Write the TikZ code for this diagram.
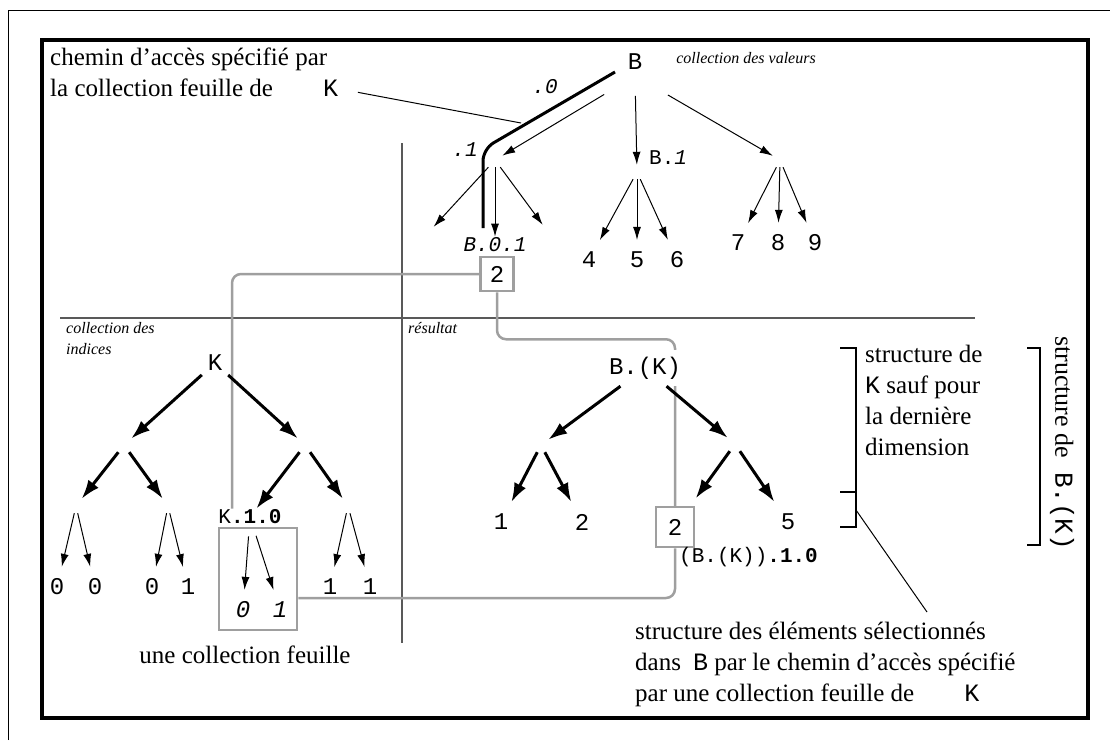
\documentclass[tikz,border=0pt]{standalone}
\usepackage{fontspec}
\setmainfont{Liberation Serif}
\setmonofont{Liberation Mono}
\usetikzlibrary{arrows.meta,positioning,calc}
\pgfdeclarelayer{bg}
\pgfsetlayers{bg,main}
\tikzset{
  thin arrow/.style={-{Latex[length=13pt,width=8pt]}, line width=1pt},
  thick arrow/.style={-{Latex[length=19pt,width=13pt]}, line width=3pt},
  branch/.style={inner sep=0pt, minimum size=14pt},
  root/.style={font=\fontsize{24}{24}\selectfont\ttfamily, inner sep=1pt, outer sep=5pt},
  leaf/.style={font=\fontsize{24}{24}\selectfont\ttfamily, inner sep=0pt, outer sep=12pt},
  smalltt/.style={font=\fontsize{21}{21}\selectfont\ttfamily, inner sep=1pt},
  note/.style={font=\fontsize{25}{31}\selectfont, align=left, inner sep=0pt},
  caption/.style={font=\fontsize{16}{21}\selectfont\itshape, align=left, inner sep=0pt},
  link/.style={draw=gray!75, line width=2.5pt, rounded corners=9pt},
  selbox/.style={draw=gray!75, line width=2.5pt, fill=white, inner sep=0pt,
    font=\fontsize{24}{24}\selectfont\ttfamily},
  divider/.style={draw=black!65, line width=1.2pt},
  bracket/.style={line width=2.5pt},
}

\begin{document}
\begin{tikzpicture}[x=1pt,y=-1pt]
\useasboundingbox (0,0) rectangle (1110,740);
\draw[line width=1pt] (8,740) -- (8,10) -- (1110,10);
\draw[line width=4.5pt] (42,40) rectangle (1088,718);

% valeurs
\node[root] (B) at (635,62) {B};
\node[caption] (valeurs) at (746,58) {collection des valeurs};
\node[branch] (b0) at (495,160) {};
\node[branch] (b1) at (637,172) {};
\node[branch] (b2) at (780,160) {};
\node[smalltt, anchor=west] (b1lab) at (648,158) {B.\textit{1}};
\node[branch] (b00) at (427,234) {};
\node[smalltt] (b01) at (495,245) {\textit{B.0.1}};
\node[branch] (b02) at (548,232) {};
\node[selbox, minimum width=33pt, minimum height=34pt] (box2) at (497,274) {2};
\node[leaf] (v4) at (589,260) {4};
\node[leaf] (v5) at (637,260) {5};
\node[leaf] (v6) at (677,260) {6};
\node[leaf] (v7) at (738,243) {7};
\node[leaf] (v8) at (778,243) {8};
\node[leaf] (v9) at (815,243) {9};
\node[smalltt] (dot0) at (545,87) {\textit{.0}};
\node[smalltt] (dot1) at (465,150) {\textit{.1}};

\draw[thin arrow, shorten <=36pt] (B.south) -- (b0);
\draw[thin arrow, shorten <=20pt] (B.south) -- (b1);
\draw[thin arrow, shorten <=38pt] (B.south) -- (b2);
\draw[thin arrow] (b0) -- (b00);
\draw[thin arrow] (b0) -- (b01);
\draw[thin arrow] (b0) -- (b02);
\draw[thin arrow] (b1) -- (v4);
\draw[thin arrow] (b1) -- (v5);
\draw[thin arrow] (b1) -- (v6);
\draw[thin arrow] (b2) -- (v7);
\draw[thin arrow] (b2) -- (v8);
\draw[thin arrow] (b2) -- (v9);

\coordinate (p0) at (615,72);
\coordinate (p1) at (483,228);
\draw[line width=3pt, rounded corners=12pt] (p0) -- ++(-132,77) -- (p1);

\node[note, anchor=north west] (chemin) at (50,48)
  {chemin d'accès spécifié par\\la collection feuille de\hspace{50pt}\texttt{K}};
\coordinate (lead1) at (521,123);
\draw[line width=1pt, shorten <=20pt] ([yshift=-16pt]chemin.east) -- (lead1);

% indices
\node[caption, anchor=north west] (indices) at (66,322) {collection des\\indices};
\node[root] (K) at (215,363) {K};
\node[branch] (k0) at (124,445) {};
\node[branch] (k1) at (305,445) {};
\node[branch] (k00) at (76,506) {};
\node[branch] (k01) at (168,506) {};
\node[smalltt] (k10) at (250,517) {K\textbf{.1.0}};
\node[branch] (k11) at (348,506) {};
\node[leaf] (i1) at (57,587) {0};
\node[leaf] (i2) at (95,587) {0};
\node[leaf] (i3) at (152,587) {0};
\node[leaf] (i4) at (188,587) {1};
\node[leaf] (i5) at (243,610) {\textit{0}};
\node[leaf] (i6) at (280,610) {\textit{1}};
\node[leaf] (i7) at (330,587) {1};
\node[leaf] (i8) at (370,587) {1};
\node[draw=gray!75, line width=2.5pt, minimum width=78pt, minimum height=102pt] (kbox) at (258,579) {};
\node[note] (feuille) at (245,655) {une collection feuille};

\draw[thick arrow] (K) -- (k0);
\draw[thick arrow] (K) -- (k1);
\draw[thick arrow] (k0) -- (k00);
\draw[thick arrow] (k0) -- (k01);
\draw[thick arrow] (k1) -- (k10);
\draw[thick arrow] (k1) -- (k11);
\draw[thin arrow] (k00) -- (i1);
\draw[thin arrow] (k00) -- (i2);
\draw[thin arrow] (k01) -- (i3);
\draw[thin arrow] (k01) -- (i4);
\draw[thin arrow, shorten <=11pt] (k10) -- (i5);
\draw[thin arrow, shorten <=11pt] (k10) -- (i6);
\draw[thin arrow] (k11) -- (i7);
\draw[thin arrow] (k11) -- (i8);

% resultat
\node[caption, anchor=north west] (resultat) at (408,322) {résultat};
\node[root, fill=white, inner sep=7pt, outer sep=0pt] (R) at (645,368) {B.(K)};
\node[branch] (r0) at (541,445) {};
\node[branch] (r1) at (735,444) {};
\node[leaf] (o1) at (501,522) {1};
\node[leaf] (o2) at (582,522) {2};
\node[selbox, minimum width=38pt, minimum height=40pt] (rbox) at (675,527) {2};
\node[leaf] (o4) at (788,522) {5};
\node[smalltt, anchor=west] (rlab) at (678,557) {(B.(K))\textbf{.1.0}};

\draw[thick arrow] (R) -- (r0);
\draw[thick arrow] (R) -- (r1);
\draw[thick arrow] (r0) -- (o1);
\draw[thick arrow] (r0) -- (o2);
\draw[thick arrow, shorten >=9pt] (r1) -- (rbox);
\draw[thick arrow] (r1) -- (o4);

\begin{pgfonlayer}{bg}
\draw[divider] (402,143) -- (402,643);
\draw[divider] (60,318) -- (975,318);
\draw[link] (box2.west) -| ([xshift=-18pt]k10.north);
\draw[link] (box2.south) -- ++(0,47) -| (rbox.north);
\draw[link] (rbox.south) |- ([yshift=-19pt]kbox.east);
\end{pgfonlayer}

% structure
\draw[bracket] (840,348) -- (856,348) -- (856,527) -- (840,527) (840,492) -- (856,492);
\node[note, anchor=north west] (sauf) at (865,345)
  {structure de\\\texttt{K} sauf pour\\la dernière\\dimension};
\draw[bracket] (1027,348) -- (1040,348) -- (1040,545) -- (1027,545);
\node[note, font=\fontsize{26}{31}\selectfont, rotate=-90] (structB) at (1062,443) {structure de\hspace{14pt}\texttt{B.(K)}};
\coordinate (tick) at (856,510);
\coordinate (lead2) at (927,612);
\draw[line width=1pt] (tick) -- (lead2);
\node[note, anchor=north west] (selection) at (635,622)
  {structure des éléments sélectionnés\\dans\hspace{12pt}\texttt{B} par le chemin d'accès spécifié\\par une collection feuille de\hspace{50pt}\texttt{K}};
\end{tikzpicture}
\end{document}
